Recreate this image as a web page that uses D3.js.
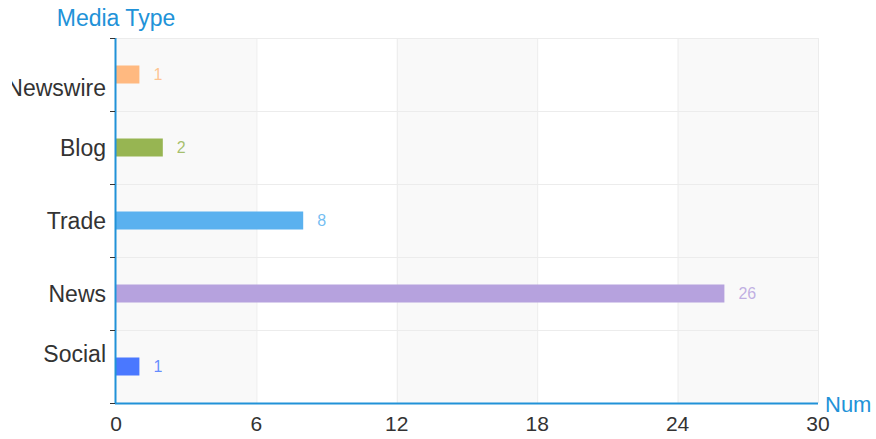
<!DOCTYPE html>
<html><head><meta charset="utf-8">
<script src="https://cdn.jsdelivr.net/npm/d3@7"></script>
<style>html,body{margin:0;padding:0;background:#fff;}svg{display:block;font-family:"Liberation Sans",Arial,sans-serif;}</style>
</head><body>
<svg id="c" width="876" height="439"></svg>
<script>
const categories = ["Social","News","Trade","Blog","Newswire"];
const values = [1,26,8,2,1];
const colors = ["#4a78ff","#b6a2de","#5ab1ef","#97b552","#ffb980"];
const xTicks = [0,6,12,18,24,30];
const yTitle = "Media Type";
const xTitle = "Num";

(function(){
const svg = d3.select("#c");
const pL = 116, pR = 818, pT = 38, pB = 403;
const x = d3.scaleLinear().domain([0,30]).range([pL,pR]);
const y = d3.scaleBand().domain(categories).range([pB, pT]);
const blue = "#2192d8";

const clip = svg.append("defs").append("clipPath").attr("id","cl");
clip.append("rect").attr("x",12).attr("y",0).attr("width",864).attr("height",439);

// split areas
for (let i=0;i<xTicks.length-1;i++){
  svg.append("rect").attr("x",x(xTicks[i])).attr("y",pT)
    .attr("width",x(xTicks[i+1])-x(xTicks[i])).attr("height",pB-pT)
    .attr("fill", i%2===0 ? "#f9f9f9" : "#ffffff");
}
// vertical grid
svg.append("g").selectAll("line").data(xTicks.slice(1)).join("line")
  .attr("x1",d=>x(d)+0.5).attr("x2",d=>x(d)+0.5).attr("y1",pT).attr("y2",pB)
  .attr("stroke","#ececec");
// horizontal grid at band boundaries
const bounds = categories.map(c=>y(c)).concat([pB]);
svg.append("g").selectAll("line").data(bounds.filter(b=>b<pB-1)).join("line")
  .attr("x1",pL).attr("x2",pR).attr("y1",d=>Math.round(d)+0.5).attr("y2",d=>Math.round(d)+0.5)
  .attr("stroke","#ececec");

// bars
const bh = 18;
svg.append("g").selectAll("rect").data(categories).join("rect")
  .attr("x",x(0)).attr("y",(d)=>y(d)+y.bandwidth()/2-bh/2)
  .attr("width",(d,i)=>x(values[i])-x(0)).attr("height",bh)
  .attr("fill",(d,i)=>colors[i]);
// value labels
svg.append("g").selectAll("text").data(categories).join("text")
  .attr("x",(d,i)=>x(values[i])+14).attr("y",d=>y(d)+y.bandwidth()/2)
  .attr("dy","0.35em").attr("font-size",16)
  .attr("fill",(d,i)=>colors[i]).attr("fill-opacity",0.85)
  .text((d,i)=>values[i]);

// y axis
svg.append("line").attr("x1",pL-0.5).attr("x2",pL-0.5).attr("y1",pT).attr("y2",pB+1)
  .attr("stroke",blue).attr("stroke-width",2);
svg.append("g").selectAll("line").data(bounds).join("line")
  .attr("x1",pL-6).attr("x2",pL-1).attr("y1",d=>Math.round(d)+0.5).attr("y2",d=>Math.round(d)+0.5)
  .attr("stroke","#333");
// category labels
const n = categories.length;
svg.append("g").attr("clip-path","url(#cl)").selectAll("text").data(categories).join("text")
  .attr("x",106).attr("text-anchor","end")
  .attr("y",(d,i)=>y(d)+y.bandwidth()/2 + (i===0?-13:(i===n-1?13:0)))
  .attr("dy","0.35em").attr("font-size",23).attr("fill","#333").text(d=>d);

// x axis
svg.append("line").attr("x1",pL-1).attr("x2",pR).attr("y1",pB+0.5).attr("y2",pB+0.5)
  .attr("stroke",blue).attr("stroke-width",2);
svg.append("g").selectAll("text").data(xTicks).join("text")
  .attr("x",d=>x(d)).attr("y",424).attr("dy","0.35em").attr("text-anchor","middle")
  .attr("font-size",21).attr("fill","#333").text(d=>d);

// titles
svg.append("text").attr("x",116).attr("y",18).attr("dy","0.35em").attr("text-anchor","middle")
  .attr("font-size",23).attr("fill",blue).text(yTitle);
svg.append("text").attr("x",825).attr("y",404).attr("dy","0.35em")
  .attr("font-size",22).attr("fill",blue).text(xTitle);
})();
</script>
</body></html>
